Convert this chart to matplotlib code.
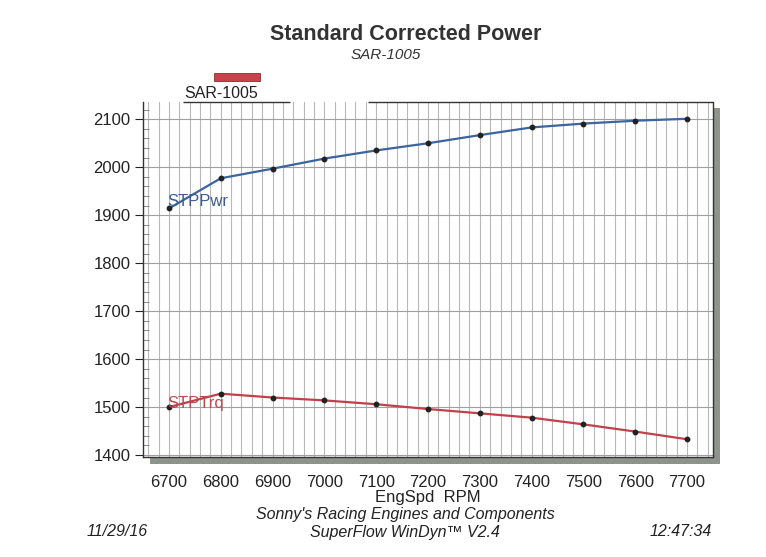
import matplotlib
matplotlib.use("Agg")
import matplotlib.pyplot as plt
from matplotlib.patches import Rectangle
from matplotlib.ticker import MultipleLocator

rpm = [6700, 6800, 6900, 7000, 7100, 7200, 7300, 7400, 7500, 7600, 7700]
stp_pwr = [1914, 1977, 1997, 2018, 2035, 2050, 2067, 2083, 2091, 2097, 2101]
stp_trq = [1500, 1528, 1520, 1514, 1506, 1496, 1487, 1478, 1464, 1449, 1433]
x_ticks = [6700, 6800, 6900, 7000, 7100, 7200, 7300, 7400, 7500, 7600, 7700]
y_ticks = [1400, 1500, 1600, 1700, 1800, 1900, 2000, 2100]

plt.rcParams['font.family'] = ['Liberation Sans', 'DejaVu Sans']

W, H = 766, 557
fig = plt.figure(figsize=(W / 100, H / 100), dpi=100)

def fx(px):
    return px / W

def fy(py):
    return 1 - py / H

# drop shadow
fig.patches.append(Rectangle((fx(150), fy(464)), fx(720) - fx(150), fy(108) - fy(464),
                             transform=fig.transFigure, facecolor='#8e938b',
                             edgecolor='none', zorder=0))

ax = fig.add_axes([fx(143), fy(457), fx(713) - fx(143), fy(102) - fy(457)])
ax.set_facecolor('white')
ax.set_zorder(1)

ax.set_xlim(6650, 7750)
ax.set_ylim(1396, 2136)

ax.set_xticks(x_ticks)
ax.xaxis.set_minor_locator(MultipleLocator(20))
ax.set_yticks(y_ticks)
ax.yaxis.set_minor_locator(MultipleLocator(20))

ax.grid(which='major', axis='y', color='#a0a0a0', lw=0.8)
ax.grid(which='both', axis='x', color='#b8b8b8', lw=0.8)
ax.set_axisbelow(True)

ax.tick_params(axis='x', which='both', length=0, labelsize=12, pad=13, colors='#222222')
ax.tick_params(axis='y', which='major', length=6, direction='out', labelsize=12,
               colors='#222222', pad=3)
ax.tick_params(axis='y', which='minor', length=4, direction='in', colors='#777777')

for s in ax.spines.values():
    s.set_color('#333333')
    s.set_linewidth(1.0)
ax.spines['top'].set_visible(False)
# top border as printed (with the gaps of the scanned page)
for x0, x1 in [((183 - 143) / 570, (290 - 143) / 570), ((368 - 143) / 570, 1.0)]:
    ax.plot([x0, x1], [1, 1], transform=ax.transAxes, color='#333333', lw=1.0,
            clip_on=False, zorder=5, solid_capstyle='butt')

ax.plot(rpm, stp_pwr, color='#3c659e', lw=1.6, marker='o', ms=3.2,
        mfc='#222222', mec='#222222', zorder=3)
ax.plot(rpm, stp_trq, color='#c1414b', lw=1.6, marker='o', ms=3.2,
        mfc='#222222', mec='#222222', zorder=3)

ax.text(6697, 1929, 'STPPwr', color='#3d5d8e', fontsize=12, ha='left', va='center', zorder=4)
ax.text(6697, 1508, 'STPTrq', color='#b84a52', fontsize=12, ha='left', va='center', zorder=4)

ax.set_xlabel('EngSpd  RPM', fontsize=12, color='#222222', labelpad=0)

# titles
fig.text(fx(406), fy(35), 'Standard Corrected Power', fontsize=15.5, fontweight='bold',
         color='#333333', ha='center', va='center')
fig.text(fx(386), fy(55), 'SAR-1005', fontsize=11, fontstyle='italic',
         color='#333333', ha='center', va='center')

# legend
fig.patches.append(Rectangle((fx(214), fy(81)), fx(260) - fx(214), fy(73) - fy(81),
                             transform=fig.transFigure, facecolor='#c8424c',
                             edgecolor='#8a3036', lw=0.6, zorder=2))
fig.text(fx(184), fy(94), 'SAR-1005', fontsize=11.5, color='#222222',
         ha='left', va='center')

# footer
fig.text(fx(405), fy(515), "Sonny's Racing Engines and Components", fontsize=11.5,
         fontstyle='italic', color='#222222', ha='center', va='center')
fig.text(fx(405), fy(532), 'SuperFlow WinDyn\u2122 V2.4', fontsize=11.5,
         fontstyle='italic', color='#222222', ha='center', va='center')
fig.text(fx(117), fy(532), '11/29/16', fontsize=11.5, fontstyle='italic',
         color='#222222', ha='center', va='center')
fig.text(fx(681), fy(532), '12:47:34', fontsize=11.5, fontstyle='italic',
         color='#222222', ha='center', va='center')

fig.savefig('out.png', dpi=100, facecolor='white')
